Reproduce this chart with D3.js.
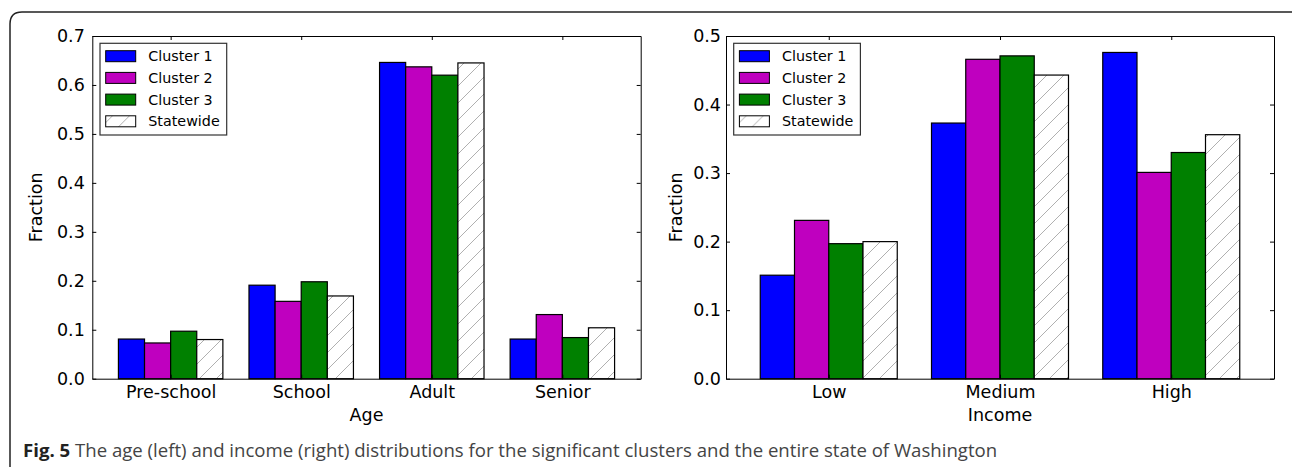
<!DOCTYPE html>
<html>
<head>
<meta charset="utf-8">
<script src="https://cdn.jsdelivr.net/npm/d3@7"></script>
<style>
  body { margin: 0; background: #fff; }
  svg { display: block; }
  .tick text { font-family: "DejaVu Sans", sans-serif; font-size: 17.5px; fill: #000; }
  .domain, .tick line { stroke: #000; }
</style>
</head>
<body>
<svg width="1292" height="467"></svg>
<script>
// age panel values
const ageCats = ["Pre-school", "School", "Adult", "Senior"];
const ageC1 = [0.081, 0.191, 0.646, 0.081];
const ageC2 = [0.073, 0.158, 0.637, 0.131];
const ageC3 = [0.097, 0.198, 0.620, 0.084];
const ageState = [0.080, 0.169, 0.645, 0.104];
const ageTicks = [0, 0.1, 0.2, 0.3, 0.4, 0.5, 0.6, 0.7];

// income panel values
const incomeCats = ["Low", "Medium", "High"];
const incC1 = [0.151, 0.373, 0.476];
const incC2 = [0.231, 0.466, 0.301];
const incC3 = [0.197, 0.471, 0.330];
const incState = [0.200, 0.443, 0.356];
const incTicks = [0, 0.1, 0.2, 0.3, 0.4, 0.5];

const seriesNames = ["Cluster 1", "Cluster 2", "Cluster 3", "Statewide"];
const seriesFill = ["#0000ff", "#bf00bf", "#008000", "url(#hatch)"];

const svg = d3.select('svg');

// hatch for the statewide bars
const hs = 17;
const pat = svg.append('defs').append('pattern')
    .attr('id', 'hatch')
    .attr('patternUnits', 'userSpaceOnUse')
    .attr('width', hs).attr('height', hs);
pat.append('rect').attr('width', hs).attr('height', hs).attr('fill', '#fff');
pat.append('path')
    .attr('d', `M0,${hs} L${hs},0 M-3,3 L3,-3 M${hs - 3},${hs + 3} L${hs + 3},${hs - 3}`)
    .attr('stroke', '#b0b0b0').attr('stroke-width', 1);

// outer frame (only top and left show in the picture)
svg.append('path')
    .attr('d', 'M10,470 L10,24 Q10,12 22,12 L1300,12')
    .attr('fill', 'none').attr('stroke', '#222').attr('stroke-width', 1.5);

function drawPanel(p) {
    const x = d3.scaleLinear().domain([-0.6, p.cats.length - 0.4]).range([p.left, p.right]);
    const y = d3.scaleLinear().domain([0, p.yMax]).range([p.bottom, p.top]);
    const bw = x(0.2) - x(0);
    const g = svg.append('g');

    p.series.forEach((vals, k) => {
        g.selectAll('.bar' + k)
            .data(vals)
            .enter()
            .append('rect')
            .attr('x', (d, i) => x(i - 0.4 + k * 0.2))
            .attr('y', d => y(d))
            .attr('width', bw)
            .attr('height', d => y(0) - y(d))
            .attr('fill', seriesFill[k])
            .attr('stroke', '#000')
            .attr('stroke-width', 1.2);
    });

    const idx = d3.range(p.cats.length);

    // axes, ticks pointing inward like matplotlib classic
    g.append('g').attr('transform', `translate(${p.left},0)`)
        .call(d3.axisLeft(y).tickValues(p.ticks).tickFormat(d3.format('.1f'))
            .tickSizeInner(-4).tickSizeOuter(0).tickPadding(p.yPad));
    g.append('g').attr('transform', `translate(${p.right},0)`)
        .call(d3.axisRight(y).tickValues(p.ticks).tickFormat('')
            .tickSizeInner(-4).tickSizeOuter(0));
    g.append('g').attr('transform', `translate(0,${p.top})`)
        .call(d3.axisTop(x).tickValues(idx).tickFormat('')
            .tickSizeInner(-4).tickSizeOuter(0));
    g.append('g').attr('transform', `translate(0,${p.bottom})`)
        .call(d3.axisBottom(x).tickValues(idx).tickFormat(i => p.cats[i])
            .tickSizeInner(-4).tickSizeOuter(0).tickPadding(6.5));

    // axis titles
    g.append('text')
        .attr('x', (p.left + p.right) / 2).attr('y', 421)
        .attr('text-anchor', 'middle')
        .style('font-family', 'DejaVu Sans').style('font-size', '17.5px')
        .text(p.xLabel);
    g.append('text')
        .attr('transform', `translate(${p.left - p.yLabelGap},${(p.top + p.bottom) / 2}) rotate(-90)`)
        .attr('text-anchor', 'middle')
        .style('font-family', 'DejaVu Sans').style('font-size', '17.5px')
        .text('Fraction');

    // legend
    const lg = g.append('g').attr('transform', `translate(${p.left + 7.7},43.3)`);
    lg.append('rect').attr('width', 126.7).attr('height', 91.7)
        .attr('fill', '#fff').attr('stroke', '#333').attr('stroke-width', 1.2);
    seriesNames.forEach((name, k) => {
        const cy = 12.9 + k * 21.7;
        lg.append('rect').attr('x', 5.7).attr('y', cy - 5.5)
            .attr('width', 30).attr('height', 11)
            .attr('fill', seriesFill[k]).attr('stroke', '#000');
        lg.append('text').attr('x', 48.3).attr('y', cy)
            .attr('dominant-baseline', 'central')
            .style('font-family', 'DejaVu Sans').style('font-size', '14.3px')
            .text(name);
    });
}

drawPanel({
    left: 92.3, right: 640.7, top: 36, bottom: 378.7,
    cats: ageCats, series: [ageC1, ageC2, ageC3, ageState],
    yMax: 0.7, ticks: ageTicks, xLabel: 'Age', yPad: 7.5, yLabelGap: 50
});
drawPanel({
    left: 726, right: 1274, top: 36, bottom: 378.7,
    cats: incomeCats, series: [incC1, incC2, incC3, incState],
    yMax: 0.5, ticks: incTicks, xLabel: 'Income', yPad: 5, yLabelGap: 44
});

// caption
const cap = svg.append('text')
    .attr('x', 23).attr('y', 457)
    .style('font-family', '"Open Sans", sans-serif').style('font-size', '18.6px');
cap.append('tspan').attr('font-weight', 'bold').attr('fill', '#222').text('Fig. 5');
cap.append('tspan').attr('fill', '#444')
    .text(' The age (left) and income (right) distributions for the significant clusters and the entire state of Washington');
</script>
</body>
</html>
